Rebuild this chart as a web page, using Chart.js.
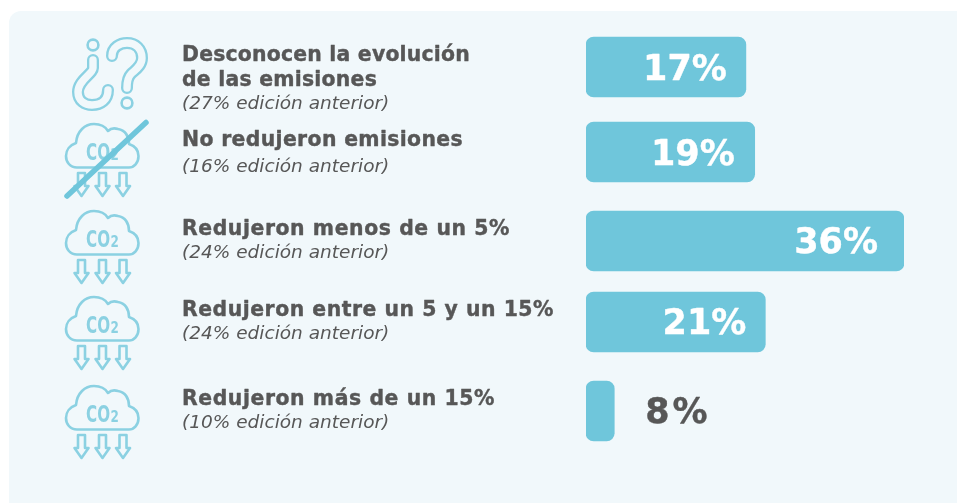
<!DOCTYPE html>
<html lang="es"><head><meta charset="utf-8">
<style>
html,body{margin:0;padding:0;background:#fff;width:957px;height:503px;overflow:hidden}
#panel{position:absolute;left:9px;top:11px;width:948px;height:492px;background:#f1f8fb;border-radius:12px 0 0 0}
canvas{position:absolute;left:0;top:0}
</style>
<script src="https://cdn.jsdelivr.net/npm/chart.js@4"></script>
</head><body><div id="panel"></div><canvas id="c" width="957" height="503"></canvas>
<script>
const categories = ["Desconocen la evolución de las emisiones","No redujeron emisiones","Redujeron menos de un 5%","Redujeron entre un 5 y un 15%","Redujeron más de un 15%"];
const titleLines = [["Desconocen la evolución","de las emisiones"],["No redujeron emisiones"],["Redujeron menos de un 5%"],["Redujeron entre un 5 y un 15%"],["Redujeron más de un 15%"]];
const previousEdition = ["(27% edición anterior)","(16% edición anterior)","(24% edición anterior)","(24% edición anterior)","(10% edición anterior)"];
const percentLabels = ["17%","19%","36%","21%","8%"];
// The source's bars are not drawn in proportion to their printed labels; these are the lengths as pictured, in axis units.
const barLengths = [18.1,19.1,36,20.3,3.2];

const BAR='#6fc6db', ICON='#8bd1e2', BG='#f1f8fb', TXT='#575757';
const rowNudge=[0,-1,2,-3,0];
const titleY=[[61,86],[146],[235],[316],[405]];
const titleEnd=[[470,377],[463],[510],[554],[495]];
const noteY=[109,172,258,339,428];
const cloudDy=[null,-87,0,86,175];
const labelInset=[19,20,26,19];
const labelDrop=[13,13,12,12,12];

function cloud(ctx,dy){
  ctx.save();ctx.translate(0,dy);
  ctx.strokeStyle=ICON;ctx.lineWidth=2.6;ctx.lineJoin='round';ctx.lineCap='round';
  ctx.beginPath();ctx.moveTo(77,254.5);
  ctx.bezierCurveTo(70,254.5,66,249,66,243);
  ctx.bezierCurveTo(66,237,70,232,76,230);
  ctx.bezierCurveTo(77,218,85,211,94,211);
  ctx.bezierCurveTo(100,211,105,213,108,218);
  ctx.bezierCurveTo(111,215,115,215,118,216);
  ctx.bezierCurveTo(125,217,129,223,129,231);
  ctx.bezierCurveTo(135,233,138.5,237,138.5,243);
  ctx.bezierCurveTo(138.5,250,134,254.5,129,254.5);
  ctx.closePath();ctx.stroke();
  [81.5,102.5,123].forEach(x=>{
    ctx.beginPath();ctx.moveTo(x-3.5,260);ctx.lineTo(x+3.5,260);ctx.lineTo(x+3.5,273);ctx.lineTo(x+7,273);
    ctx.lineTo(x,283);ctx.lineTo(x-7,273);ctx.lineTo(x-3.5,273);ctx.closePath();ctx.stroke();
  });
  ctx.fillStyle=ICON;ctx.textAlign='left';ctx.textBaseline='alphabetic';
  ctx.save();ctx.translate(86,247);ctx.scale(0.66,1);ctx.font='bold 23px "DejaVu Sans"';ctx.fillText('CO',0,0);ctx.restore();
  ctx.save();ctx.translate(110.5,247);ctx.scale(0.75,1);ctx.font='bold 16px "DejaVu Sans"';ctx.fillText('2',0,0);ctx.restore();
  ctx.restore();
}
function tube(ctx,draw){
  ctx.lineCap='round';ctx.lineJoin='round';
  ctx.strokeStyle=ICON;ctx.lineWidth=12;ctx.beginPath();draw();ctx.stroke();
  ctx.strokeStyle=BG;ctx.lineWidth=7.4;ctx.beginPath();draw();ctx.stroke();
}
function question(ctx){
  tube(ctx,()=>{ctx.moveTo(112,56);ctx.bezierCurveTo(112,47,120,43,127,43);ctx.bezierCurveTo(136,43,142,49,142,58);ctx.bezierCurveTo(142,66,135,70,131,74);ctx.bezierCurveTo(128,77,127,80,127,88);});
  tube(ctx,()=>{ctx.moveTo(93,60);ctx.lineTo(93,68);ctx.bezierCurveTo(93,74,78,80,78,92);ctx.bezierCurveTo(78,101,85,105,92,105);ctx.bezierCurveTo(101,105,108,100,108,90);});
  ctx.strokeStyle=ICON;ctx.lineWidth=2.6;
  [[127,103],[93,45]].forEach(p=>{ctx.beginPath();ctx.arc(p[0],p[1],5.4,0,Math.PI*2);ctx.stroke();});
}
function boldText(ctx,t,x,y){ctx.fillText(t,x,y);ctx.strokeText(t,x,y);}
const decor={id:'decor',
  afterDatasetsUpdate(chart){chart.getDatasetMeta(0).data.forEach((el,i)=>{el.y+=rowNudge[i];});},
  afterDatasetsDraw(chart){
    const ctx=chart.ctx;ctx.save();
    ctx.save();ctx.filter='blur(0.45px)';
    question(ctx);
    cloudDy.forEach(d=>{if(d!==null)cloud(ctx,d);});
    ctx.restore();
    ctx.strokeStyle=BAR;ctx.lineWidth=5.5;ctx.lineCap='round';ctx.beginPath();ctx.moveTo(67,196);ctx.lineTo(146,122.5);ctx.stroke();
    ctx.textAlign='left';ctx.textBaseline='alphabetic';ctx.fillStyle=TXT;ctx.strokeStyle=TXT;ctx.lineWidth=0.4;ctx.lineJoin='round';
    titleLines.forEach((lines,i)=>{
      ctx.font='bold 20.4px "DejaVu Sans"';
      lines.forEach((t,j)=>{
        ctx.letterSpacing='0px';
        const w=ctx.measureText(t).width;
        ctx.letterSpacing=((titleEnd[i][j]-182-w)/t.length)+'px';
        boldText(ctx,t,182,titleY[i][j]);
      });
      ctx.letterSpacing='0px';
      ctx.font='italic 18.5px "DejaVu Sans"';
      ctx.fillText(previousEdition[i],182,noteY[i]);
    });
    ctx.font='bold 35px "DejaVu Sans"';
    chart.getDatasetMeta(0).data.forEach((el,i)=>{
      const inside=i<labelInset.length;
      ctx.fillStyle=inside?'#ffffff':TXT;ctx.strokeStyle=ctx.fillStyle;
      ctx.textAlign=inside?'right':'left';
      ctx.letterSpacing=inside?'0px':'3px';
      boldText(ctx,percentLabels[i],inside?el.x-labelInset[i]:el.x+31,el.y+labelDrop[i]);
    });
    ctx.restore();
  }};
new Chart(document.getElementById('c'),{
  type:'bar',
  data:{labels:categories,datasets:[{data:barLengths,backgroundColor:BAR,borderWidth:0,borderRadius:8,borderSkipped:false,barThickness:60}]},
  options:{indexAxis:'y',responsive:false,animation:false,
    layout:{padding:{left:586,right:53,top:24,bottom:49}},
    plugins:{legend:{display:false},tooltip:{enabled:false}},
    scales:{x:{display:false,min:0,max:36},y:{display:false}}},
  plugins:[decor]
});
</script></body></html>
